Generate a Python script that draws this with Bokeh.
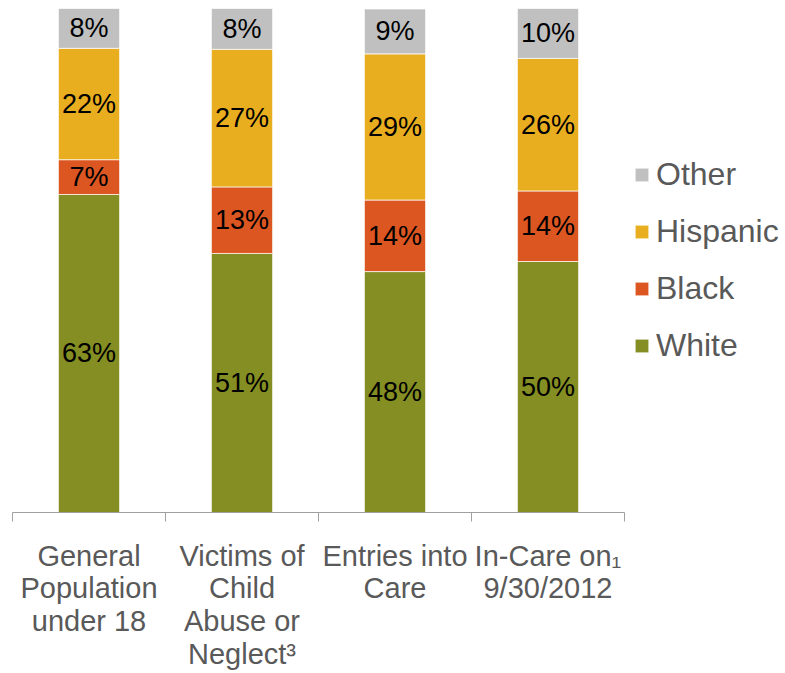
import numpy as np
from bokeh.plotting import figure
from bokeh.models import ColumnDataSource, Range1d, FixedTicker, Legend, LegendItem
from bokeh.core.properties import value
from bokeh.embed import file_html
from bokeh.resources import INLINE

# ---- data ----
categories = [
    "General\nPopulation\nunder 18",
    "Victims of\nChild\nAbuse or\nNeglect\u00b3",
    "Entries into\nCare",
    "In-Care on\u2081\n9/30/2012",
]
groups = ["White", "Black", "Hispanic", "Other"]
white = [63.1, 51.4, 47.8, 49.8]
black = [6.9, 13.2, 14.2, 14.0]
hispanic = [22.1, 27.3, 29.0, 26.3]
other = [7.9, 8.1, 8.9, 9.9]
colors = ["#848E22", "#DC5622", "#E9AE1F", "#C0C0C0"]

FONT = "Liberation Sans"

series = {"White": white, "Black": black, "Hispanic": hispanic, "Other": other}
xs = np.arange(len(categories)) + 0.5
data = dict(x=xs)
data.update(series)
source = ColumnDataSource(data)

p = figure(frame_width=612, frame_height=504, x_range=Range1d(0, len(categories)), y_range=Range1d(0, 100),
           toolbar_location=None, output_backend="svg",
           min_border_left=12, min_border_right=0, min_border_top=8, min_border_bottom=0)
p.outline_line_color = None
p.grid.visible = False
p.yaxis.visible = False

renderers = p.vbar_stack(groups, x="x", width=0.4, source=source,
                         fill_color=colors, line_color="white", line_width=0.7)

# segment labels
lx, ly, lt = [], [], []
bottom = np.zeros(len(categories))
for g in groups:
    vals = np.array(series[g])
    mids = bottom + vals / 2
    for i in range(len(categories)):
        lx.append(xs[i]); ly.append(mids[i]); lt.append(f"{int(round(vals[i]))}%")
    bottom = bottom + vals
p.text(x=lx, y=ly, text=lt, text_font=value(FONT), text_font_size="27px",
       text_color="#000000", text_align="center", text_baseline="middle")

# x axis: labels at centres, tick marks at category boundaries
ax = p.xaxis[0]
ax.ticker = FixedTicker(ticks=[float(v) for v in xs],
                        minor_ticks=[float(v) for v in range(len(categories) + 1)])
ax.major_label_overrides = {float(v): c for v, c in zip(xs, categories)}
ax.major_tick_out = 0
ax.major_tick_in = 0
ax.minor_tick_out = 9
ax.minor_tick_in = 0
ax.minor_tick_line_color = "#A0A0A0"
ax.axis_line_color = "#A0A0A0"
ax.major_label_text_font = FONT
ax.major_label_text_font_size = "29px"
ax.major_label_text_line_height = 1.03
ax.major_label_text_color = "#595959"
ax.major_label_standoff = 18

items = [LegendItem(label=g, renderers=[r]) for g, r in zip(groups, renderers)][::-1]
legend = Legend(items=items, location="center_left", orientation="vertical",
                glyph_width=17, glyph_height=17, label_standoff=6,
                label_text_font=FONT, label_text_font_size="32px", label_text_color="#595959",
                label_height=17, spacing=20, margin=9, padding=0,
                border_line_alpha=0, background_fill_alpha=0)
p.add_layout(legend, "right")

open("out.html", "w").write(file_html(p, INLINE))
